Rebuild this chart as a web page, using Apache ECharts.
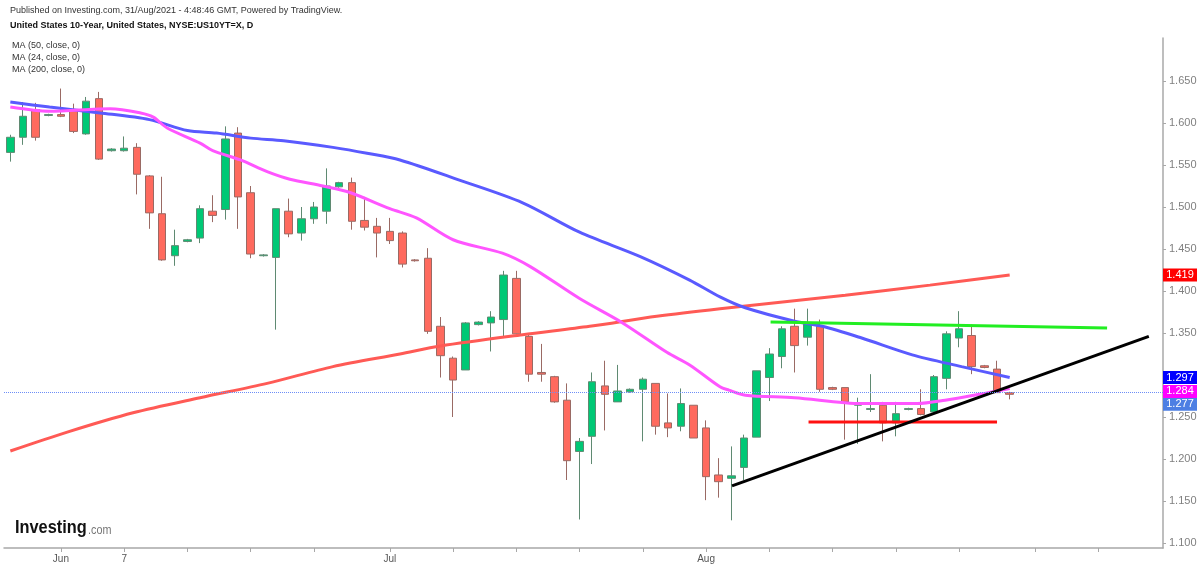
<!DOCTYPE html>
<html lang="en">
<head>
<meta charset="UTF-8">
<title>United States 10-Year</title>
<script src="https://cdn.jsdelivr.net/npm/echarts@6/dist/echarts.min.js"></script>
<style>
    html, body { margin: 0; padding: 0; background: #fff; }
    #main { width: 1200px; height: 566px; }
</style>
</head>
<body>
<div id="main"></div>
<script>
    // daily candles, oldest first
    var open  = [1.565,1.583,1.616,1.609,1.610,1.615,1.587,1.629,1.567,1.567,
                 1.571,1.537,1.492,1.442,1.459,1.463,1.495,1.497,1.588,1.517,
                 1.442,1.440,1.495,1.469,1.486,1.495,1.524,1.529,1.484,1.477,
                 1.471,1.469,1.437,1.439,1.358,1.320,1.306,1.360,1.362,1.366,
                 1.415,1.346,1.303,1.298,1.270,1.209,1.227,1.287,1.268,1.280,
                 1.283,1.290,1.243,1.239,1.264,1.237,1.181,1.177,1.190,1.226,
                 1.297,1.322,1.358,1.345,1.358,1.285,1.285,1.264,1.259,1.264,
                 1.243,1.259,1.260,1.256,1.296,1.344,1.347,1.311,1.307,1.279];
    var close = [1.583,1.608,1.583,1.610,1.608,1.590,1.626,1.557,1.569,1.570,
                 1.539,1.493,1.437,1.454,1.461,1.498,1.490,1.581,1.512,1.444,
                 1.443,1.498,1.468,1.486,1.500,1.525,1.529,1.483,1.476,1.469,
                 1.460,1.432,1.436,1.352,1.323,1.294,1.362,1.363,1.369,1.419,
                 1.349,1.301,1.301,1.268,1.198,1.221,1.292,1.277,1.281,1.283,
                 1.295,1.239,1.237,1.266,1.225,1.179,1.173,1.180,1.225,1.305,
                 1.325,1.355,1.335,1.362,1.283,1.283,1.268,1.266,1.260,1.243,
                 1.254,1.260,1.253,1.298,1.349,1.355,1.310,1.309,1.279,1.277];
    var low   = [1.554,1.574,1.579,1.608,1.607,1.588,1.586,1.556,1.566,1.566,
                 1.515,1.474,1.436,1.430,1.458,1.457,1.482,1.485,1.474,1.439,
                 1.441,1.354,1.464,1.460,1.480,1.480,1.523,1.473,1.472,1.440,
                 1.456,1.428,1.435,1.349,1.297,1.250,1.306,1.359,1.328,1.345,
                 1.348,1.292,1.292,1.267,1.175,1.128,1.194,1.234,1.268,1.279,
                 1.221,1.229,1.226,1.233,1.225,1.151,1.154,1.127,1.175,1.226,
                 1.269,1.308,1.303,1.335,1.280,1.282,1.223,1.218,1.256,1.221,
                 1.227,1.258,1.252,1.256,1.283,1.333,1.301,1.308,1.279,1.271];
    var high  = [1.586,1.625,1.624,1.611,1.641,1.623,1.631,1.637,1.570,1.584,
                 1.576,1.538,1.536,1.473,1.462,1.502,1.514,1.596,1.595,1.525,
                 1.444,1.498,1.510,1.500,1.506,1.546,1.530,1.535,1.512,1.487,
                 1.487,1.471,1.438,1.451,1.369,1.322,1.363,1.364,1.376,1.424,
                 1.424,1.348,1.337,1.299,1.290,1.225,1.303,1.317,1.312,1.284,
                 1.297,1.290,1.278,1.284,1.264,1.246,1.201,1.215,1.229,1.305,
                 1.332,1.358,1.379,1.379,1.366,1.286,1.285,1.273,1.301,1.268,
                 1.268,1.261,1.283,1.300,1.352,1.376,1.360,1.312,1.317,1.280];

    // moving averages, read at points along each line (x = bar index)
    var ma50Idx  = [0,3.1,7.1,11,14,16.3,19,21.6,25.5,28.2,30.8,35.5,40.5,45,49.8,53.7,56.1,58.1,62,64.2,67.3,71.3,75.2,79];
    var ma50Val  = [1.625,1.619,1.612,1.604,1.591,1.588,1.582,1.579,1.571,1.564,1.556,1.532,1.505,1.470,1.441,1.413,1.393,1.380,1.364,1.358,1.344,1.324,1.310,1.297];
    var ma24Idx  = [0,3.1,7.9,10.3,11.3,12.4,15,16,18.2,20.3,22.1,24.7,26.9,30,32.1,35,38.9,41.1,45,48.4,51.9,53.7,56.1,56.8,58.1,62,67.3,71.7,73.9,76.6,79];
    var ma24Val  = [1.619,1.614,1.617,1.612,1.607,1.594,1.576,1.567,1.556,1.542,1.533,1.525,1.517,1.498,1.487,1.461,1.445,1.429,1.391,1.362,1.327,1.312,1.286,1.282,1.276,1.273,1.266,1.266,1.270,1.277,1.284];
    var ma200Idx = [0,4.5,9.7,15,20.3,25.5,30.8,34,40.5,45.8,51.1,56.1,66,72.7,79];
    var ma200Val = [1.2095,1.232,1.255,1.273,1.290,1.310,1.325,1.3345,1.348,1.358,1.370,1.379,1.395,1.407,1.419];

    // hand-drawn trend lines [start idx, start value, end idx, end value]
    var resistLine = [60.1, 1.363, 86.7, 1.356];
    var supportLine = [63.1, 1.244, 78.0, 1.244];
    var trendLine = [57.05, 1.168, 90.0, 1.346];

    // last values shown on the price scale
    var lastMa200 = 1.419, lastMa50 = 1.297, lastMa24 = 1.284, lastPrice = 1.277;

    // time axis
    var tickIdx  = [4, 9, 14, 19, 24, 30, 35, 40, 45, 50, 55, 60, 65, 70, 75, 81, 86];
    var labelIdx = [4, 9, 30, 55];
    var labelTxt = ['Jun', '7', 'Jul', 'Aug'];
    var priceTicks = [1.10, 1.15, 1.20, 1.25, 1.30, 1.35, 1.40, 1.45, 1.50, 1.55, 1.60, 1.65];
    var priceLabels = [1.10, 1.15, 1.20, 1.25, 1.35, 1.40, 1.45, 1.50, 1.55, 1.60, 1.65];

    var FONT = "'Liberation Sans', Arial, sans-serif";

    function pairs(xs, ys) {
        return xs.map(function (x, i) { return [x, ys[i]]; });
    }
    function seg(l) {
        return [[l[0], l[1]], [l[2], l[3]]];
    }
    function tag(value, color, dy) {
        return {
            symbol: 'rect',
            symbolSize: [34, 13],
            symbolOffset: [17, dy],
            data: [{ coord: [91.12, value], value: value }],
            itemStyle: { color: color },
            label: {
                show: true, position: 'inside', color: '#fff',
                fontSize: 11, fontFamily: FONT,
                formatter: function (p) { return p.value.toFixed(3); }
            },
            silent: true,
            animation: false
        };
    }

    var candles = open.map(function (o, i) {
        return [i, o, close[i], low[i], high[i]];
    });

    var chart = echarts.init(document.getElementById('main'));

    var option = {
        animation: false,
        backgroundColor: '#fff',
        grid: { left: 4, right: 37, top: 38, bottom: 18 },
        xAxis: {
            type: 'value',
            min: -0.5,
            max: 91.12,
            splitLine: { show: false },
            axisLine: { onZero: false, lineStyle: { color: '#a8a8a8', width: 1.5 } },
            axisTick: { customValues: tickIdx, length: 4, lineStyle: { color: '#a8a8a8' } },
            axisLabel: {
                customValues: labelIdx,
                color: '#555', fontSize: 10, fontFamily: FONT, margin: 6,
                formatter: function (v) { return labelTxt[labelIdx.indexOf(Math.round(v))] || ''; }
            }
        },
        yAxis: {
            type: 'value',
            position: 'right',
            min: 1.09405,
            max: 1.70119,
            splitLine: { show: false },
            axisLine: { show: true, onZero: false, lineStyle: { color: '#a8a8a8', width: 1.5 } },
            axisTick: { show: true, customValues: priceTicks, length: 3, lineStyle: { color: '#a8a8a8' } },
            axisLabel: {
                customValues: priceLabels,
                color: '#808080', fontSize: 11, fontFamily: FONT, margin: 6,
                formatter: function (v) { return v.toFixed(3); }
            }
        },
        series: [
            {
                type: 'candlestick',
                data: candles,
                encode: { x: 0, y: [1, 2, 3, 4] },
                barWidth: 8,
                itemStyle: {
                    color: '#00c875',
                    color0: '#ff6a5e',
                    borderColor: '#5f8a72',
                    borderColor0: '#9a6a64',
                    borderWidth: 1
                },
                markLine: {
                    silent: true,
                    symbol: ['none', 'none'],
                    label: { show: false },
                    lineStyle: { color: '#6d8ef7', type: 'dotted', width: 1 },
                    data: [{ yAxis: lastPrice }]
                },
                markPoint: tag(lastPrice, '#4d7fe3', 10),
                z: 2
            },
            {
                name: 'MA (200, close, 0)', type: 'line', data: pairs(ma200Idx, ma200Val),
                showSymbol: false, smooth: 0.3, lineStyle: { color: '#ff5a55', width: 3 },
                markPoint: tag(lastMa200, '#ff0000', 0), z: 3
            },
            {
                name: 'MA (50, close, 0)', type: 'line', data: pairs(ma50Idx, ma50Val),
                showSymbol: false, smooth: 0.3, lineStyle: { color: '#5a5aff', width: 3 },
                markPoint: tag(lastMa50, '#0000ff', 0), z: 3
            },
            {
                name: 'MA (24, close, 0)', type: 'line', data: pairs(ma24Idx, ma24Val),
                showSymbol: false, smooth: 0.3, lineStyle: { color: '#ff55ff', width: 3 },
                markPoint: tag(lastMa24, '#ff00ff', 3), z: 3
            },
            {
                type: 'line', data: seg(resistLine), showSymbol: false,
                lineStyle: { color: '#22ee22', width: 3 }, z: 4
            },
            {
                type: 'line', data: seg(supportLine), showSymbol: false,
                lineStyle: { color: '#ff1111', width: 3 }, z: 4
            },
            {
                type: 'line', data: seg(trendLine), showSymbol: false,
                lineStyle: { color: '#000', width: 3 }, z: 4
            }
        ],
        graphic: [
            {
                type: 'text', left: 10, top: 6,
                style: { text: 'Published on Investing.com, 31/Aug/2021 - 4:48:46 GMT, Powered by TradingView.',
                         fill: '#333', font: '9px ' + FONT }
            },
            {
                type: 'text', left: 10, top: 21,
                style: { text: 'United States 10-Year, United States, NYSE:US10YT=X, D',
                         fill: '#111', font: 'bold 9px ' + FONT }
            },
            {
                type: 'text', left: 12, top: 41,
                style: { text: 'MA (50, close, 0)', fill: '#333', font: '9px ' + FONT }
            },
            {
                type: 'text', left: 12, top: 53,
                style: { text: 'MA (24, close, 0)', fill: '#333', font: '9px ' + FONT }
            },
            {
                type: 'text', left: 12, top: 65,
                style: { text: 'MA (200, close, 0)', fill: '#333', font: '9px ' + FONT }
            },
            {
                type: 'text', left: 15, top: 518, scaleX: 0.86,
                style: { text: 'Investing', fill: '#111', font: "bold 19px 'Liberation Sans', Arial" }
            },
            {
                type: 'text', left: 88, top: 525, scaleX: 0.9,
                style: { text: '.com', fill: '#777', font: "12px 'Liberation Sans', Arial" }
            }
        ]
    };

    chart.setOption(option);
</script>
</body>
</html>
